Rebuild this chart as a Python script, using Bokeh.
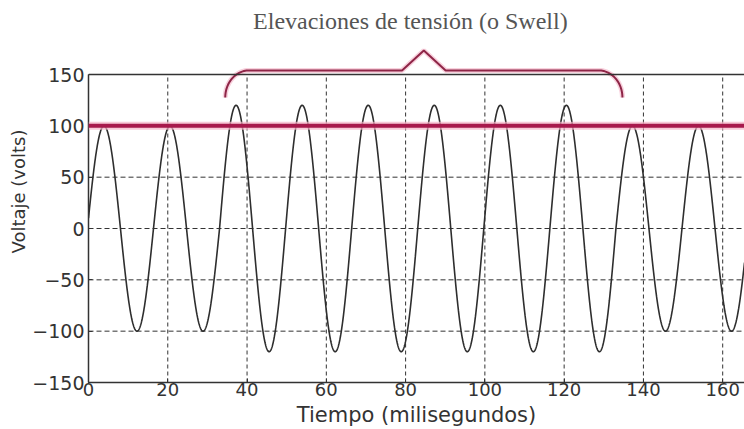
import numpy as np
from bokeh.plotting import figure
from bokeh.models import FixedTicker, Span, Range1d
from bokeh.core.properties import value
from bokeh.embed import file_html
from bokeh.resources import INLINE

# --- signal description -------------------------------------------------
FREQ_HZ = 60.0
FIRST_ZERO_MS = -0.27          # rising zero crossing just before t = 0
# peak magnitude (V) of each successive half-cycle
half_cycle_peaks = [100, 100, 100, 100,
                    120, 120, 120, 120, 120, 120, 120, 120, 120, 120, 120, 120,
                    100, 100, 100, 100, 100]
nominal_peak_v = 100

# --- axes ---------------------------------------------------------------
x_ticks = [0, 20, 40, 60, 80, 100, 120, 140, 160]
y_ticks = [-150, -100, -50, 0, 50, 100, 150]
x_grid = [20, 40, 60, 80, 100, 120, 140, 160]
y_grid = [-100, -50, 0, 50, 100]

# --- swell annotation ---------------------------------------------------
swell_start_ms = 34.5
swell_end_ms = 134.7
title_text = "Elevaciones de tensión (o Swell)"
x_label = "Tiempo (milisegundos)"
y_label = "Voltaje (volts)"

T_MAX = 165.5
Y_MIN, Y_MAX = -150, 150
Y_TOP = 222.1                  # headroom above the box for brace and caption

# waveform: each half-cycle is a sine arc scaled to its own peak
half_ms = 1000.0 / FREQ_HZ / 2
t = np.linspace(0, T_MAX, 3000)
phase = (t - FIRST_ZERO_MS) / half_ms
k = np.clip(np.floor(phase).astype(int), 0, len(half_cycle_peaks) - 1)
v = np.array(half_cycle_peaks, dtype=float)[k] * np.sin(np.pi * phase)


def brace_path(x0, x1, y_base, y_ends, y_tip, rx, tip_half):
    """Horizontal curly brace opening downwards, tip pointing up."""
    xm = (x0 + x1) / 2
    th = np.linspace(0, np.pi / 2, 30)
    ry = y_base - y_ends
    lx = x0 + rx - rx * np.cos(th)
    ly = y_ends + ry * np.sin(th)
    th_r = th[::-1]
    rxs = x1 - rx + rx * np.cos(th_r)
    rys = y_ends + ry * np.sin(th_r)
    xs = list(lx) + [xm - tip_half, xm, xm + tip_half] + list(rxs)
    ys = list(ly) + [y_base, y_tip, y_base] + list(rys)
    return xs, ys


bx, by = brace_path(swell_start_ms, swell_end_ms, 154.0, 127.6, 173.4, 6.0, 5.5)

p = figure(width=744, height=429,
           x_range=Range1d(0, T_MAX), y_range=Range1d(Y_MIN, Y_TOP),
           output_backend="svg", toolbar_location=None,
           min_border_left=88, min_border_right=0,
           min_border_top=0, min_border_bottom=47)
p.outline_line_color = None
p.xgrid.visible = False
p.ygrid.visible = False
p.background_fill_color = "white"
p.border_fill_color = "white"

# dashed grid, confined to the box
p.segment(x0=x_grid, y0=[Y_MIN] * len(x_grid), x1=x_grid, y1=[Y_MAX] * len(x_grid),
          line_color="#333333", line_width=1, line_dash="4 3")
p.segment(x0=[0] * len(y_grid), y0=y_grid, x1=[T_MAX] * len(y_grid), y1=y_grid,
          line_color="#333333", line_width=1, line_dash="5 3")

# top edge of the box
p.add_layout(Span(location=Y_MAX, dimension="width", line_color="#333333", line_width=1.5))

# waveform
p.line(t, v, line_color="#2e2e2e", line_width=1.6)

# nominal peak level
p.add_layout(Span(location=nominal_peak_v, dimension="width",
                  line_color="#f3b3c6", line_width=8, line_alpha=0.7))
p.add_layout(Span(location=nominal_peak_v, dimension="width",
                  line_color="#a8194c", line_width=4))

# brace over the swell interval
p.line(bx, by, line_color="#f3b3c6", line_width=5, line_alpha=0.6)
p.line(bx, by, line_color="#8e2547", line_width=2)

# caption above the brace
p.text(x=[(swell_start_ms + swell_end_ms) / 2 - 3.4], y=[202.6], text=[title_text],
       text_font=value("Liberation Serif"), text_font_size="24px",
       text_color="#555555", text_align="center", text_baseline="middle")

# axes
xa = p.xaxis[0]
xa.ticker = FixedTicker(ticks=x_ticks)
xa.axis_label = x_label
xa.axis_label_text_font = "DejaVu Sans"
xa.axis_label_text_font_size = "21px"
xa.axis_label_text_font_style = "normal"
xa.axis_label_text_color = "#333333"
xa.axis_label_standoff = 4
xa.major_label_text_font = "DejaVu Sans"
xa.major_label_text_font_size = "18px"
xa.major_label_text_color = "#333333"
xa.major_label_standoff = 0
xa.major_tick_in = 4
xa.major_tick_out = 0
xa.minor_tick_line_color = None
xa.axis_line_color = "#333333"
xa.axis_line_width = 1.5
xa.major_tick_line_color = "#333333"

ya = p.yaxis[0]
ya.ticker = FixedTicker(ticks=y_ticks)
ya.bounds = (Y_MIN, Y_MAX)
ya.axis_label = y_label
ya.axis_label_text_font = "DejaVu Sans"
ya.axis_label_text_font_size = "18px"
ya.axis_label_text_font_style = "normal"
ya.axis_label_text_color = "#333333"
ya.axis_label_standoff = 0
ya.major_label_text_font = "DejaVu Sans"
ya.major_label_text_font_size = "19px"
ya.major_label_text_color = "#333333"
ya.major_label_standoff = 4
ya.major_tick_in = 4
ya.major_tick_out = 0
ya.minor_tick_line_color = None
ya.axis_line_color = "#333333"
ya.axis_line_width = 1.5
ya.major_tick_line_color = "#333333"

open("out.html", "w").write(file_html(p, INLINE))
